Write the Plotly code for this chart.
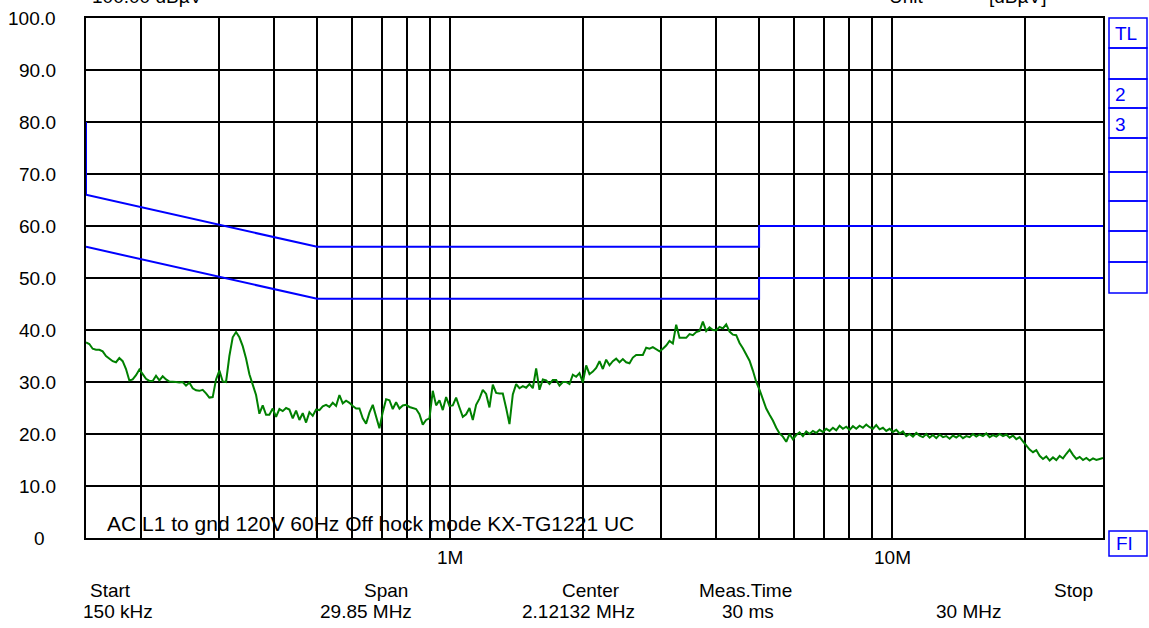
import numpy as np
import plotly.graph_objects as go

# Sweep setup (MHz)
START_MHZ = 0.15
STOP_MHZ = 30.0
N_POINTS = 306

# Measured level, dBuV, one value per sweep point
level_dbuv = [
    37.6, 37.3, 36.4, 36.2, 36.2, 35.9, 35.0, 34.5, 34.0, 33.8,
    34.6, 34.0, 32.5, 30.3, 30.5, 31.3, 32.4, 31.5, 30.6, 30.2,
    30.2, 31.2, 30.3, 31.1, 30.5, 30.1, 30.1, 30.0, 29.9, 30.0,
    29.3, 29.9, 28.8, 28.4, 28.3, 28.5, 27.8, 27.0, 27.1, 30.5,
    32.2, 30.1, 30.0, 35.0, 38.6, 39.6, 38.6, 36.9, 34.5, 31.5,
    29.5, 27.5, 23.9, 25.5, 23.7, 23.7, 24.9, 23.3, 24.8, 24.4,
    25.0, 24.7, 23.0, 24.5, 22.7, 24.0, 22.2, 24.2, 23.5, 24.7,
    24.6, 25.3, 25.6, 25.2, 26.0, 25.4, 27.5, 25.9, 26.4, 26.0,
    25.4, 24.9, 24.9, 23.0, 22.0, 24.1, 25.6, 23.3, 21.1, 24.2,
    26.7, 26.5, 24.8, 26.1, 24.9, 25.5, 25.6, 25.2, 25.0, 24.8,
    23.8, 21.8, 22.7, 23.0, 28.3, 25.5, 26.5, 24.6, 27.1, 25.4,
    25.5, 27.0, 25.1, 23.3, 23.8, 25.0, 22.7, 25.6, 26.8, 28.5,
    27.7, 25.1, 29.5, 27.9, 27.8, 27.8, 25.0, 21.9, 27.6, 29.6,
    28.8, 29.2, 28.9, 29.6, 28.8, 32.6, 28.5, 30.5, 30.3, 29.6,
    30.4, 30.4, 29.3, 30.0, 30.0, 29.6, 31.4, 31.0, 31.7, 29.9,
    33.2, 31.5, 32.0, 32.7, 34.0, 32.5, 34.3, 33.2, 34.0, 34.5,
    33.8, 34.4, 33.8, 33.6, 34.7, 35.2, 35.2, 35.2, 36.6, 36.4,
    36.7, 36.3, 35.9, 36.4, 37.0, 37.9, 37.4, 41.0, 38.5, 38.5,
    38.5, 39.2, 39.0, 39.6, 39.8, 41.6, 39.8, 40.5, 40.0, 39.9,
    40.6, 40.3, 41.1, 39.7, 39.1, 39.0, 37.5, 36.5, 35.4, 34.1,
    32.2, 30.0, 28.5, 26.6, 24.9, 23.7, 22.6, 21.2, 20.1, 19.5,
    18.5, 20.0, 19.0, 19.8, 20.3, 19.6, 20.5, 20.0, 20.6, 20.2,
    20.8, 20.4, 21.0, 20.6, 21.2, 20.7, 21.6, 21.0, 21.4, 20.8,
    21.5, 21.0, 21.6, 21.2, 21.8, 21.3, 21.0, 21.7, 20.9, 21.2,
    20.6, 21.0, 20.4, 20.8, 20.1, 20.5, 19.6, 20.0, 19.5, 20.2,
    19.7, 19.4, 20.0, 19.3, 19.8, 19.2, 19.9, 19.4, 19.6, 19.1,
    19.7, 19.3, 19.8, 19.2, 19.6, 19.4, 20.0, 19.5, 19.9, 19.6,
    20.1, 19.4, 19.8, 19.5, 20.0, 19.6, 19.9, 19.3, 19.7, 19.0,
    19.4, 18.6, 17.8, 17.0, 16.5, 16.9, 15.8, 15.2, 15.7, 14.9,
    15.5, 15.0, 15.8, 15.3, 16.2, 17.0, 16.0, 15.2, 15.6, 15.0,
    15.4, 14.9, 15.3, 15.0, 15.2, 15.4,
]

# Limit lines (EN 55022 class B style): quasi-peak and average
qp_freq = [0.15, 0.15, 0.5, 5.0, 5.0, 30.0]
qp_level = [80, 66, 56, 56, 60, 60]
av_freq = [0.15, 0.5, 5.0, 5.0, 30.0]
av_level = [56, 46, 46, 50, 50]

# Axis annotation text
y_tick_values = [100, 90, 80, 70, 60, 50, 40, 30, 20, 10, 0]
y_tick_text = ["100.0", "90.0", "80.0", "70.0", "60.0", "50.0",
               "40.0", "30.0", "20.0", "10.0", "0"]
x_grid_mhz = [0.2, 0.3, 0.4, 0.5, 0.6, 0.7, 0.8, 0.9, 1, 2, 3, 4, 5,
              6, 7, 8, 9, 10, 20]
x_label_values = [1, 10]
x_label_text = ["1M", "10M"]

footer_names = ["Start", "Span", "Center", "Meas.Time", "Stop"]
footer_values = ["150 kHz", "29.85 MHz", "2.12132 MHz", "30 ms", "30 MHz"]
note_text = "AC L1 to gnd 120V 60Hz Off hock mode KX-TG1221 UC"

sweep_mhz = np.geomspace(START_MHZ, STOP_MHZ, N_POINTS)

W, H = 1149, 628
L, R, T, B = 86, 1103, 18, 538  # plot area in page pixels
FONT = "Liberation Sans, Arial, sans-serif"
FS = 19
BLUE = "#0000ff"


def px(xp):
    return (xp - L) / (R - L)


def py(yp):
    return (B - yp) / (B - T)


fig = go.Figure()

fig.add_trace(go.Scatter(x=qp_freq, y=qp_level, mode="lines",
                         line=dict(color=BLUE, width=2), hoverinfo="skip"))
fig.add_trace(go.Scatter(x=av_freq, y=av_level, mode="lines",
                         line=dict(color=BLUE, width=2), hoverinfo="skip"))
fig.add_trace(go.Scatter(x=sweep_mhz, y=level_dbuv, mode="lines",
                         line=dict(color="#008000", width=2)))

ann = []
# y tick labels
for v, t in zip(y_tick_values, y_tick_text):
    if t == "0":
        ann.append(dict(x=px(39), y=v, xref="paper", yref="y", text=t,
                        xanchor="center", yanchor="middle", showarrow=False))
    else:
        ann.append(dict(x=px(58), y=v, xref="paper", yref="y", text=t,
                        xanchor="right", yanchor="middle", showarrow=False))
# x decade labels
for v, t in zip(x_label_values, x_label_text):
    ann.append(dict(x=np.log10(v), y=py(557), xref="x", yref="paper", text=t,
                    xanchor="center", yanchor="middle", showarrow=False))

# header text, running off the top of the page
ann.append(dict(x=px(90), y=py(-3), xref="paper", yref="paper",
                text="100.00 dBµV", xanchor="left", yanchor="middle",
                showarrow=False))
ann.append(dict(x=px(887), y=py(-3), xref="paper", yref="paper",
                text="Unit", xanchor="left", yanchor="middle", showarrow=False))
ann.append(dict(x=px(987), y=py(-3), xref="paper", yref="paper",
                text="[dBµV]", xanchor="left", yanchor="middle",
                showarrow=False))

# measurement note inside the plot
ann.append(dict(x=px(105), y=py(523), xref="paper", yref="paper",
                text=note_text, xanchor="left", yanchor="middle",
                showarrow=False, font=dict(family=FONT, size=21)))

# footer parameter block
name_x = [110, 386, 591, 745, 1073]
value_x = [118, 366, 578, 748, 968]
for nx, n in zip(name_x, footer_names):
    ann.append(dict(x=px(nx), y=py(590), xref="paper", yref="paper", text=n,
                    xanchor="center", yanchor="middle", showarrow=False))
for vx, v in zip(value_x, footer_values):
    ann.append(dict(x=px(vx), y=py(611), xref="paper", yref="paper", text=v,
                    xanchor="center", yanchor="middle", showarrow=False))

# side panel labels
for txt, cx, cy in [("TL", 1126, 33), ("2", 1120, 94), ("3", 1120, 124),
                    ("FI", 1124, 543)]:
    ann.append(dict(x=px(cx), y=py(cy), xref="paper", yref="paper", text=txt,
                    xanchor="center", yanchor="middle", showarrow=False,
                    font=dict(color=BLUE, size=FS, family=FONT)))

shapes = []
panel_rows = [18, 48, 79, 108, 138, 172, 201, 231, 262, 293]
for y0, y1 in zip(panel_rows[:-1], panel_rows[1:]):
    shapes.append(dict(type="rect", xref="paper", yref="paper",
                       x0=px(1109), x1=px(1147), y0=py(y1), y1=py(y0),
                       line=dict(color=BLUE, width=1.5)))
shapes.append(dict(type="rect", xref="paper", yref="paper",
                   x0=px(1109), x1=px(1147), y0=py(556), y1=py(531),
                   line=dict(color=BLUE, width=1.5)))

axis_common = dict(showgrid=True, gridcolor="black", gridwidth=1.6,
                   showline=True, linecolor="black", linewidth=2, mirror=True,
                   ticks="", showticklabels=False, zeroline=False,
                   fixedrange=True)

fig.update_layout(
    width=W, height=H,
    margin=dict(l=L, r=W - R, t=T, b=H - B, pad=0),
    paper_bgcolor="white", plot_bgcolor="white",
    showlegend=False,
    font=dict(family=FONT, size=FS, color="black"),
    xaxis=dict(type="log", range=[np.log10(START_MHZ), np.log10(STOP_MHZ)],
               tickvals=x_grid_mhz, **axis_common),
    yaxis=dict(range=[0, 100], tickvals=y_tick_values, **axis_common),
    annotations=ann,
    shapes=shapes,
)

fig.write_html("out.html")
